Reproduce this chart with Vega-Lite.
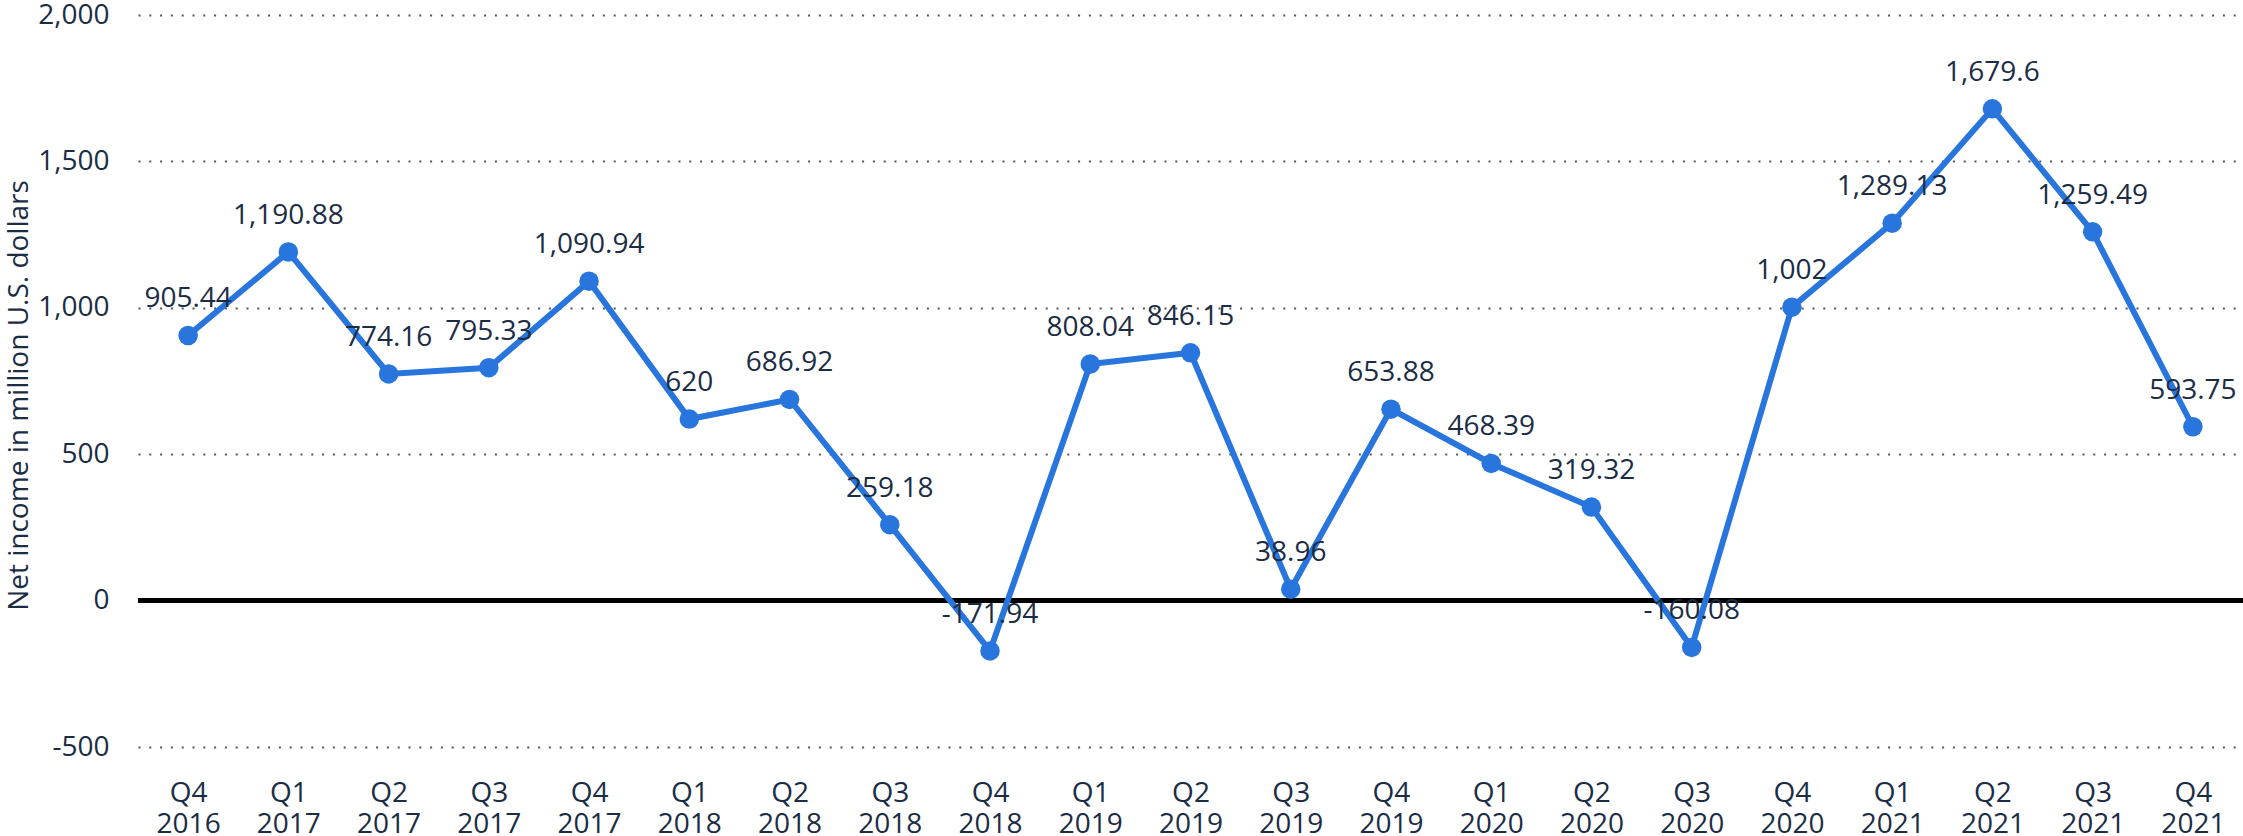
{
  "$schema": "https://vega.github.io/schema/vega-lite/v6.json",
  "width": 2105,
  "height": 732,
  "autosize": {"type": "none"},
  "padding": {"left": 138, "top": 15, "right": 0, "bottom": 89},
  "background": "white",
  "config": {
    "view": {"stroke": null},
    "font": "Open Sans",
    "locale": {"number": {"decimal": ".", "thousands": ",", "grouping": [3], "currency": ["$", ""], "minus": "-"}}
  },
  "data": {
    "values": [
      {"quarter": "Q4 2016", "value": 905.44},
      {"quarter": "Q1 2017", "value": 1190.88},
      {"quarter": "Q2 2017", "value": 774.16},
      {"quarter": "Q3 2017", "value": 795.33},
      {"quarter": "Q4 2017", "value": 1090.94},
      {"quarter": "Q1 2018", "value": 620},
      {"quarter": "Q2 2018", "value": 686.92},
      {"quarter": "Q3 2018", "value": 259.18},
      {"quarter": "Q4 2018", "value": -171.94},
      {"quarter": "Q1 2019", "value": 808.04},
      {"quarter": "Q2 2019", "value": 846.15},
      {"quarter": "Q3 2019", "value": 38.96},
      {"quarter": "Q4 2019", "value": 653.88},
      {"quarter": "Q1 2020", "value": 468.39},
      {"quarter": "Q2 2020", "value": 319.32},
      {"quarter": "Q3 2020", "value": -160.08},
      {"quarter": "Q4 2020", "value": 1002},
      {"quarter": "Q1 2021", "value": 1289.13},
      {"quarter": "Q2 2021", "value": 1679.6},
      {"quarter": "Q3 2021", "value": 1259.49},
      {"quarter": "Q4 2021", "value": 593.75}
    ]
  },
  "encoding": {
    "y": {
      "field": "value",
      "type": "quantitative",
      "scale": {"domain": [-500, 2000], "nice": false, "zero": false},
      "axis": {
        "values": [-500, 0, 500, 1000, 1500, 2000],
        "format": ",.0f",
        "title": "Net income in million U.S. dollars",
        "titleFontSize": 28,
        "titleFontWeight": "normal",
        "titleColor": "#1b2c45",
        "titleAngle": -90,
        "titleAlign": "center",
        "titleBaseline": "alphabetic",
        "titleX": -111,
        "titleY": 380,
        "labelFontSize": 28,
        "labelColor": "#1b2c45",
        "labelPadding": 29,
        "labelBaseline": "middle",
        "ticks": false,
        "domain": false,
        "grid": true,
        "gridColor": "#555555",
        "gridWidth": 2,
        "gridDash": [2, 8.8]
      }
    }
  },
  "layer": [
    {
      "mark": {"type": "rule", "color": "#000000", "strokeWidth": 5},
      "encoding": {"y": {"datum": 0, "type": "quantitative"}}
    },
    {
      "mark": {"type": "line", "color": "#2876dd", "strokeWidth": 6},
      "encoding": {
        "x": {
          "field": "quarter",
          "type": "ordinal",
          "sort": null,
          "scale": {"type": "point", "padding": 0.5},
          "axis": {
            "title": null,
            "labelAngle": 0,
            "labelExpr": "split(datum.label, ' ')",
            "labelFontSize": 28,
            "labelColor": "#1b2c45",
            "labelBaseline": "alphabetic",
            "labelLineHeight": 31,
            "labelPadding": 54,
            "ticks": false,
            "domain": false,
            "grid": false
          }
        }
      }
    },
    {
      "mark": {"type": "point", "filled": true, "color": "#2876dd", "size": 380, "opacity": 1},
      "encoding": {
        "x": {"field": "quarter", "type": "ordinal", "sort": null}
      }
    },
    {
      "mark": {"type": "text", "fontSize": 28, "color": "#1b2c45", "baseline": "alphabetic", "align": "center", "dy": -28},
      "encoding": {
        "x": {"field": "quarter", "type": "ordinal", "sort": null},
        "text": {"field": "value", "type": "quantitative", "format": ",.6~r"}
      }
    }
  ]
}
